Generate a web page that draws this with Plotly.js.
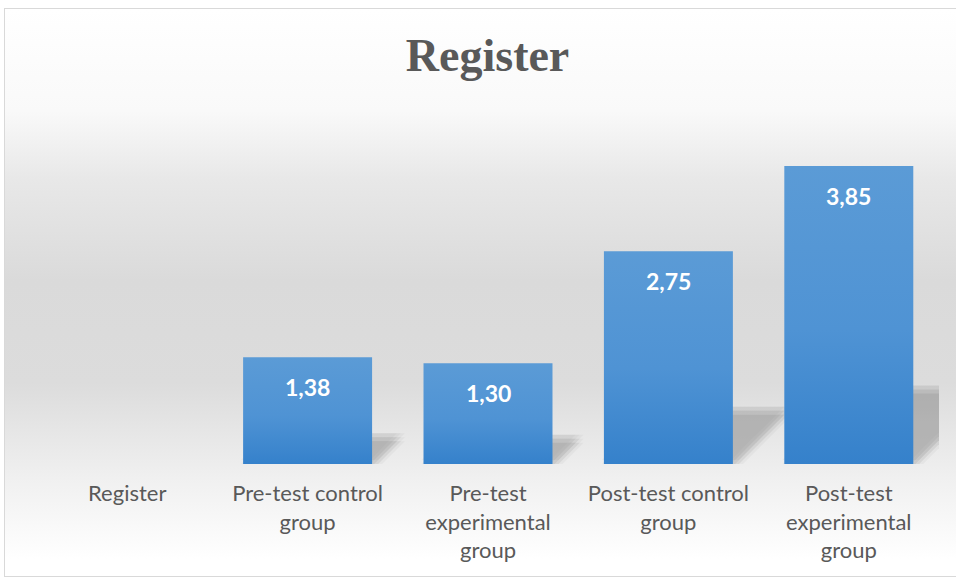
<!DOCTYPE html>
<html>
<head>
<meta charset="utf-8">
<script src="https://cdn.plot.ly/plotly-3.0.1.min.js"></script>
<style>
  html, body { margin: 0; padding: 0; width: 956px; height: 581px; overflow: hidden; background: #ffffff; }
  #bg {
    position: absolute; left: 4px; top: 8px; width: 960px; height: 569px;
    border: 1px solid #d9d9d9; box-sizing: border-box;
    background: linear-gradient(to bottom, #ffffff 0%, #f9f9f9 18%, #e8e8e8 30%, #dadada 48%, #dcdcdc 66%, #efefef 82%, #ffffff 97%);
  }
  #chart { position: absolute; left: 0; top: 0; width: 956px; height: 581px; }
</style>
</head>
<body>
<div id="bg"></div>
<div id="chart"></div>
<script>
const categories = [
  "Register",
  "Pre-test control<br>group",
  "Pre-test<br>experimental<br>group",
  "Post-test control<br>group",
  "Post-test<br>experimental<br>group"
];
const values = [null, 1.38, 1.30, 2.75, 3.85];
const chartTitle = "Register";

const fmt = v => v.toFixed(2).replace('.', ',');

const annotations = [];
categories.forEach((c, i) => {
  if (values[i] !== null) {
    annotations.push({
      x: c, y: values[i], xref: 'x', yref: 'y',
      text: '<b>' + fmt(values[i]) + '</b>',
      showarrow: false, yanchor: 'middle', yshift: -30,
      font: { family: 'Lato, "Open Sans", sans-serif', size: 23, color: '#ffffff' }
    });
  }
});

const trace = {
  type: 'bar',
  x: categories,
  y: values,
  marker: { color: '#4a8ed2', line: { width: 0 } },
  hoverinfo: 'skip'
};

const layout = {
  width: 956, height: 581,
  margin: { l: 37, r: 17, t: 130, b: 117 },
  paper_bgcolor: 'rgba(0,0,0,0)',
  plot_bgcolor: 'rgba(0,0,0,0)',
  title: {
    text: '<b>' + chartTitle + '</b>',
    font: { family: '"Liberation Serif", "Times New Roman", serif', size: 46, color: '#595959' },
    x: 0.51, xanchor: 'center', y: 0.905, yanchor: 'middle'
  },
  bargap: 0.285,
  showlegend: false,
  xaxis: {
    type: 'category',
    showline: false, showgrid: false, zeroline: false, ticks: '',
    ticklabelstandoff: 14,
    tickfont: { family: 'Lato, "Open Sans", sans-serif', size: 22, color: '#595959' },
    fixedrange: true
  },
  yaxis: {
    range: [0, 4.315],
    visible: false, showgrid: false, zeroline: false, fixedrange: true
  },
  annotations: annotations
};

Plotly.newPlot('chart', [trace], layout, { displayModeBar: false, staticPlot: true }).then(gd => {
  const svg = gd.querySelector('svg.main-svg');
  const ns = 'http://www.w3.org/2000/svg';
  let defs = svg.querySelector('defs');
  if (!defs) { defs = document.createElementNS(ns, 'defs'); svg.insertBefore(defs, svg.firstChild); }
  const grad = document.createElementNS(ns, 'linearGradient');
  grad.setAttribute('id', 'barGrad');
  grad.setAttribute('x1', '0'); grad.setAttribute('y1', '0');
  grad.setAttribute('x2', '0'); grad.setAttribute('y2', '1');
  [['0%', '#5b9bd6'], ['55%', '#4f93d4'], ['100%', '#3581cb']].forEach(([o, c]) => {
    const s = document.createElementNS(ns, 'stop');
    s.setAttribute('offset', o); s.setAttribute('stop-color', c);
    grad.appendChild(s);
  });
  defs.appendChild(grad);

  // soft perspective shadow: several faint, slightly offset copies of each bar
  const spread = [[-4,-4],[0,-4],[4,-4],[-4,0],[0,0],[4,0],[-4,4],[0,4],[4,4]];
  gd.querySelectorAll('.bars .point path').forEach(p => {
    const bb = p.getBBox();
    if (bb.height < 1) return;
    const yb = bb.y + bb.height;
    const g = document.createElementNS(ns, 'g');
    spread.forEach(([dx, dy]) => {
      const sh = p.cloneNode(false);
      sh.style.fill = '#808080';
      sh.style.opacity = '0.075';
      sh.style.fillOpacity = '1';
      sh.setAttribute('transform', `translate(${dx + 2}, ${yb + dy}) skewX(-45) scale(1, 0.25) translate(0, ${-yb})`);
      g.appendChild(sh);
    });
    p.parentNode.insertBefore(g, p);
    p.style.fill = 'url(#barGrad)';
  });
});
</script>
</body>
</html>
